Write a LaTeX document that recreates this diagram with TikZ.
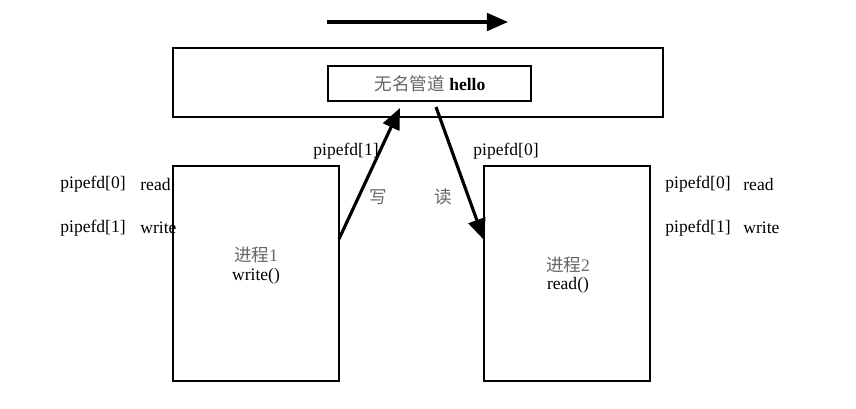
\documentclass[tikz,border=0pt]{standalone}
\usepackage{fontspec}
\setmainfont{Liberation Serif}
\newfontfamily\cjk{Noto Sans CJK SC}
\usetikzlibrary{arrows.meta}

\begin{document}
\begin{tikzpicture}[x=0.02cm,y=-0.02cm]
            \tikzset{box/.style = {draw, line width=0.8pt, inner sep=0pt}}
            \tikzset{pipe/.style = {draw, line width=1.8pt, -{Triangle[length=12pt,width=10pt]}}}
            \tikzset{lbl/.style = {font=\fontsize{10}{12}\selectfont, inner sep=0pt}}
            \tikzset{zh/.style = {font=\cjk\fontsize{10}{12}\selectfont, text=black!60, inner sep=0pt}}
            \useasboundingbox (0,0) rectangle (856,409);
            % boxes
            \node[box, minimum width=9.8cm, minimum height=1.38cm] (kernel) at (418,82.5) {};
            \node[box, minimum width=4.06cm, minimum height=0.7cm] (buf) at (429.5,83.5) {};
            \node[box, minimum width=3.32cm, minimum height=4.3cm] (p1) at (256,273.5) {};
            \node[box, minimum width=3.32cm, minimum height=4.3cm] (p2) at (567,273.5) {};
            % texts
            \node[lbl] (buftxt) at (430,84) {{\cjk\color{black!60}无名管道} \textbf{hello}};
            \node[zh] (p1name) at (256,255) {进程{\rmfamily 1}};
            \node[lbl] (p1call) at (256,276) {write()};
            \node[zh] (p2name) at (568,265) {进程{\rmfamily 2}};
            \node[lbl] (p2call) at (568,285) {read()};
            \node[lbl, anchor=west] (wfd) at (313,151) {pipefd[1]};
            \node[lbl, anchor=west] (rfd) at (473,151) {pipefd[0]};
            \node[zh] (wlbl) at (378,197) {写};
            \node[zh] (rlbl) at (443,197) {读};
            \node[lbl, anchor=west] (l0) at (60,184) {pipefd[0]};
            \node[lbl, anchor=west] (l0m) at (140,184) {read};
            \node[lbl, anchor=west] (l1) at (60,228) {pipefd[1]};
            \node[lbl, anchor=west] (l1m) at (140,228) {write};
            \node[lbl, anchor=west] (r0) at (665,184) {pipefd[0]};
            \node[lbl, anchor=west] (r0m) at (743,184) {read};
            \node[lbl, anchor=west] (r1) at (665,228) {pipefd[1]};
            \node[lbl, anchor=west] (r1m) at (743,228) {write};
            % arrow ends
            \coordinate (flowa) at (327,22);
            \coordinate (flowb) at (508,22);
            \coordinate (wsrc) at (339,239);
            \coordinate (wtip) at (400,108);
            \coordinate (rsrc) at (436,107);
            \coordinate (rtip) at (484,240);
            % edges
            \draw[pipe] (flowa) to (flowb);
            \draw[pipe] (wsrc) to (wtip);
            \draw[pipe] (rsrc) to (rtip);
\end{tikzpicture}
\end{document}
